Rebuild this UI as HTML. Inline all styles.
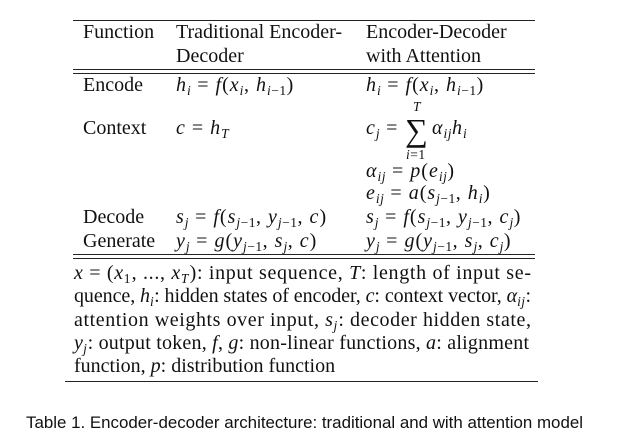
<!DOCTYPE html>
<html><head><meta charset="utf-8"><style>
html,body{margin:0;padding:0;background:#fff;}
svg{display:block;}
text{font-family:"Liberation Serif",serif;font-size:20px;fill:#111;}
.m{letter-spacing:1px;}
.i{font-style:italic;}
.s{font-size:13.5px;letter-spacing:0.5px;}
.cap{font-family:"Liberation Sans","DejaVu Sans",sans-serif;font-size:17px;}
</style></head><body>
<svg width="643" height="439" viewBox="0 0 643 439" xmlns="http://www.w3.org/2000/svg">
<g stroke="#222" stroke-width="1">
<line x1="73" y1="20.5" x2="535" y2="20.5"/>
<line x1="73" y1="69.5" x2="535" y2="69.5"/>
<line x1="73" y1="73.5" x2="535" y2="73.5"/>
<line x1="73" y1="254.5" x2="535" y2="254.5"/>
<line x1="73" y1="258.5" x2="535" y2="258.5"/>
<line x1="65" y1="381.5" x2="538" y2="381.5"/>
</g>
<text x="83" y="38">Function</text>
<text x="176" y="38">Traditional Encoder-</text>
<text x="176" y="62">Decoder</text>
<text x="366" y="38">Encoder-Decoder</text>
<text x="366" y="62">with Attention</text>

<text x="83" y="91">Encode</text>
<text x="176" y="91" class="m"><tspan class="i">h</tspan><tspan class="i s" dy="4">i</tspan><tspan dy="-4"> = </tspan><tspan class="i">f</tspan>(<tspan class="i">x</tspan><tspan class="i s" dy="4">i</tspan><tspan dy="-4">, </tspan><tspan class="i">h</tspan><tspan class="i s" dy="4">i</tspan><tspan class="s">−1</tspan><tspan dy="-4">)</tspan></text>
<text x="366" y="91" class="m"><tspan class="i">h</tspan><tspan class="i s" dy="4">i</tspan><tspan dy="-4"> = </tspan><tspan class="i">f</tspan>(<tspan class="i">x</tspan><tspan class="i s" dy="4">i</tspan><tspan dy="-4">, </tspan><tspan class="i">h</tspan><tspan class="i s" dy="4">i</tspan><tspan class="s">−1</tspan><tspan dy="-4">)</tspan></text>

<text x="83" y="134">Context</text>
<text x="176" y="134" class="m"><tspan class="i">c</tspan> = <tspan class="i">h</tspan><tspan class="i s" dy="4">T</tspan></text>
<text x="366" y="134" class="m"><tspan class="i">c</tspan><tspan class="i s" dy="4">j</tspan><tspan dy="-4"> = </tspan></text>
<text x="405" y="141" style="font-size:32px">∑</text>
<text x="413" y="111" class="i s">T</text>
<text x="406" y="159" class="s"><tspan class="i">i</tspan>=1</text>
<text x="432" y="134" class="m"><tspan class="i">α</tspan><tspan class="i s" dy="4">ij</tspan><tspan class="i" dy="-4">h</tspan><tspan class="i s" dy="4">i</tspan></text>

<text x="366" y="177" class="m"><tspan class="i">α</tspan><tspan class="i s" dy="4">ij</tspan><tspan dy="-4"> = </tspan><tspan class="i">p</tspan>(<tspan class="i">e</tspan><tspan class="i s" dy="4">ij</tspan><tspan dy="-4">)</tspan></text>
<text x="366" y="199" class="m"><tspan class="i">e</tspan><tspan class="i s" dy="4">ij</tspan><tspan dy="-4"> = </tspan><tspan class="i">a</tspan>(<tspan class="i">s</tspan><tspan class="i s" dy="4">j</tspan><tspan class="s">−1</tspan><tspan dy="-4">, </tspan><tspan class="i">h</tspan><tspan class="i s" dy="4">i</tspan><tspan dy="-4">)</tspan></text>

<text x="83" y="223">Decode</text>
<text x="176" y="223" class="m"><tspan class="i">s</tspan><tspan class="i s" dy="4">j</tspan><tspan dy="-4"> = </tspan><tspan class="i">f</tspan>(<tspan class="i">s</tspan><tspan class="i s" dy="4">j</tspan><tspan class="s">−1</tspan><tspan dy="-4">, </tspan><tspan class="i">y</tspan><tspan class="i s" dy="4">j</tspan><tspan class="s">−1</tspan><tspan dy="-4">, </tspan><tspan class="i">c</tspan>)</text>
<text x="366" y="223" class="m"><tspan class="i">s</tspan><tspan class="i s" dy="4">j</tspan><tspan dy="-4"> = </tspan><tspan class="i">f</tspan>(<tspan class="i">s</tspan><tspan class="i s" dy="4">j</tspan><tspan class="s">−1</tspan><tspan dy="-4">, </tspan><tspan class="i">y</tspan><tspan class="i s" dy="4">j</tspan><tspan class="s">−1</tspan><tspan dy="-4">, </tspan><tspan class="i">c</tspan><tspan class="i s" dy="4">j</tspan><tspan dy="-4">)</tspan></text>

<text x="83" y="247">Generate</text>
<text x="176" y="247" class="m"><tspan class="i">y</tspan><tspan class="i s" dy="4">j</tspan><tspan dy="-4"> = </tspan><tspan class="i">g</tspan>(<tspan class="i">y</tspan><tspan class="i s" dy="4">j</tspan><tspan class="s">−1</tspan><tspan dy="-4">, </tspan><tspan class="i">s</tspan><tspan class="i s" dy="4">j</tspan><tspan dy="-4">, </tspan><tspan class="i">c</tspan>)</text>
<text x="366" y="247" class="m"><tspan class="i">y</tspan><tspan class="i s" dy="4">j</tspan><tspan dy="-4"> = </tspan><tspan class="i">g</tspan>(<tspan class="i">y</tspan><tspan class="i s" dy="4">j</tspan><tspan class="s">−1</tspan><tspan dy="-4">, </tspan><tspan class="i">s</tspan><tspan class="i s" dy="4">j</tspan><tspan dy="-4">, </tspan><tspan class="i">c</tspan><tspan class="i s" dy="4">j</tspan><tspan dy="-4">)</tspan></text>

<text x="74" y="279" textLength="457" lengthAdjust="spacing"><tspan class="i">x</tspan> = (<tspan class="i">x</tspan><tspan class="s" dy="4">1</tspan><tspan dy="-4">, ..., </tspan><tspan class="i">x</tspan><tspan class="i s" dy="4">T</tspan><tspan dy="-4">): input sequence, </tspan><tspan class="i">T</tspan>: length of input se-</text>
<text x="74" y="302" textLength="457" lengthAdjust="spacing">quence, <tspan class="i">h</tspan><tspan class="i s" dy="4">i</tspan><tspan dy="-4">: hidden states of encoder, </tspan><tspan class="i">c</tspan>: context vector, <tspan class="i">α</tspan><tspan class="i s" dy="4">ij</tspan><tspan dy="-4">:</tspan></text>
<text x="74" y="326" textLength="457" lengthAdjust="spacing">attention weights over input, <tspan class="i">s</tspan><tspan class="i s" dy="4">j</tspan><tspan dy="-4">: decoder hidden state,</tspan></text>
<text x="74" y="349" textLength="455" lengthAdjust="spacing"><tspan class="i">y</tspan><tspan class="i s" dy="4">j</tspan><tspan dy="-4">: output token, </tspan><tspan class="i">f</tspan>, <tspan class="i">g</tspan>: non-linear functions, <tspan class="i">a</tspan>: alignment</text>
<text x="74" y="372">function, <tspan class="i">p</tspan>: distribution function</text>

<text x="26" y="428" class="cap" textLength="557" lengthAdjust="spacingAndGlyphs">Table 1.  Encoder-decoder architecture: traditional and with attention model</text>
</svg>
</body></html>
